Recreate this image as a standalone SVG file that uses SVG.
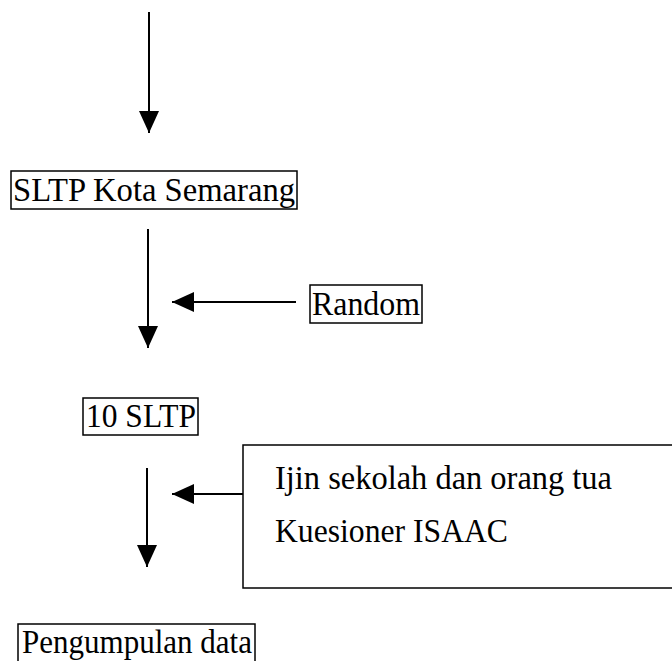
<svg xmlns="http://www.w3.org/2000/svg" width="672" height="661" viewBox="0 0 672 661">
<defs>
<style>
.box{fill:none;stroke:#000;stroke-width:1.5}
.lbl{font-family:"Liberation Serif","Times New Roman",serif;font-size:33px;fill:#000}
.ln{stroke:#000;stroke-width:2;fill:none}
</style>
<marker id="ah" markerUnits="userSpaceOnUse" markerWidth="22" markerHeight="20" refX="22" refY="10" orient="auto" viewBox="0 0 22 20">
<path d="M0,0 L22,10 L0,20 Z" fill="#000"/>
</marker>
</defs>
<rect width="672" height="661" fill="#fff"/>
<g id="connectors">
<line class="ln" x1="149" y1="12" x2="149" y2="133" marker-end="url(#ah)"/>
<line class="ln" x1="148" y1="229" x2="148" y2="348" marker-end="url(#ah)"/>
<line class="ln" x1="296" y1="302" x2="172" y2="302" marker-end="url(#ah)"/>
<line class="ln" x1="147" y1="468" x2="147" y2="567" marker-end="url(#ah)"/>
<line class="ln" x1="243" y1="494" x2="172" y2="494" marker-end="url(#ah)"/>
</g>
<g id="n1">
<rect class="box" x="11" y="171" width="286" height="38"/>
<text class="lbl" x="13" y="201" textLength="282" lengthAdjust="spacingAndGlyphs">SLTP Kota Semarang</text>
</g>
<g id="n2">
<rect class="box" x="310" y="285" width="112" height="38"/>
<text class="lbl" x="312" y="315" textLength="108" lengthAdjust="spacingAndGlyphs">Random</text>
</g>
<g id="n3">
<rect class="box" x="83" y="398" width="115" height="37"/>
<text class="lbl" x="86" y="427" textLength="110" lengthAdjust="spacingAndGlyphs">10 SLTP</text>
</g>
<g id="n4">
<rect class="box" x="243" y="445" width="440" height="143"/>
<text class="lbl" x="275" y="489" textLength="337" lengthAdjust="spacingAndGlyphs">Ijin sekolah dan orang tua</text>
<text class="lbl" x="275" y="542" textLength="233" lengthAdjust="spacingAndGlyphs">Kuesioner ISAAC</text>
</g>
<g id="n5">
<rect class="box" x="18" y="624" width="237" height="40"/>
<text class="lbl" x="22" y="653" textLength="230" lengthAdjust="spacingAndGlyphs">Pengumpulan data</text>
</g>
</svg>
